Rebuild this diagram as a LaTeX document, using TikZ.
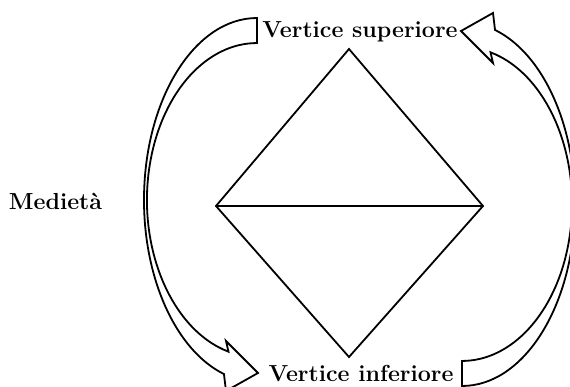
\documentclass[tikz,border=0pt]{standalone}
\usepackage{tikz}
\usetikzlibrary{positioning}

\begin{document}
\begin{tikzpicture}[x=0.5pt, y=0.5pt,
  lbl/.style={font=\fontsize{11.6}{13}\selectfont\bfseries, inner sep=0pt, anchor=base},
  blockarrow/.style={line width=0.9pt, line join=miter, fill=white},
  edge/.style={line width=0.9pt}
]
  \useasboundingbox (0,0) rectangle (570,387);

  % vertici del rombo
  \coordinate (vtop)   at (349,338);
  \coordinate (vleft)  at (216,181);
  \coordinate (vright) at (483,181);
  \coordinate (vbot)   at (349,30);
  \coordinate (centre) at (359.5,185);

  \draw[edge] (vleft) -- (vtop) -- (vright) -- (vbot) -- cycle;
  \draw[edge] (vleft) -- (vright);

  % frecce curve
  \draw[blockarrow] (257,369) arc[start angle=90, end angle=253, x radius=113, y radius=182]
    -- (226,-4) -- (258,14) -- (226,46) -- (228.5,35.3)
    arc[start angle=255, end angle=90, x radius=110, y radius=157] -- cycle;
  \draw[blockarrow, rotate around={180:(centre)}] (257,369)
    arc[start angle=90, end angle=253, x radius=113, y radius=182]
    -- (226,-4) -- (258,14) -- (226,46) -- (228.5,35.3)
    arc[start angle=255, end angle=90, x radius=110, y radius=157] -- cycle;

  \node[lbl] (sup) at (360,350) {Vertice superiore};
  \node[lbl] (inf) at (361,5) {Vertice inferiore};
  \node[lbl] (med) at (55.5,177) {Medietà};
\end{tikzpicture}
\end{document}
